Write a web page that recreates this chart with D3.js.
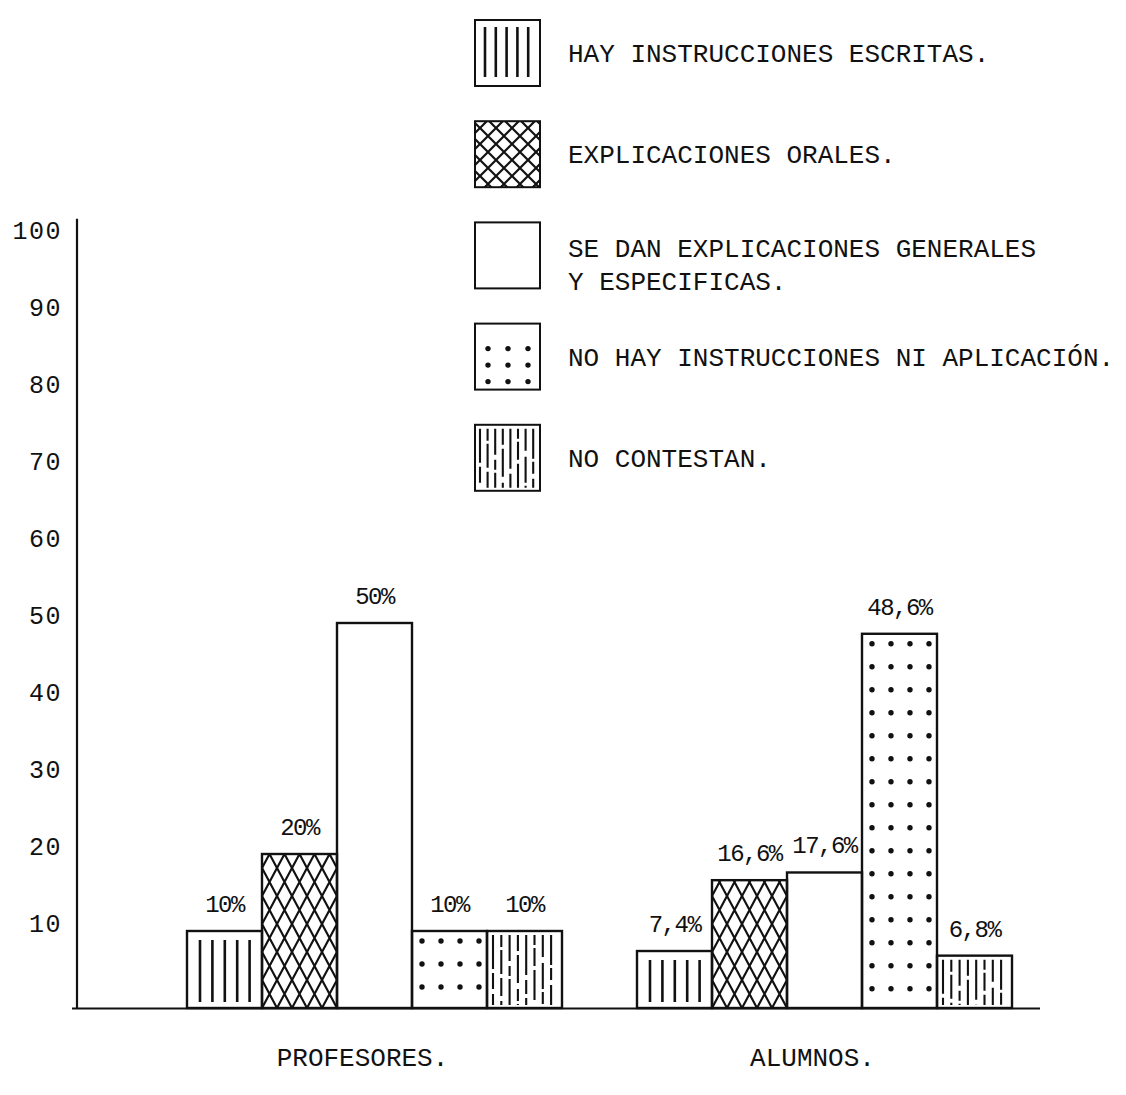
<!DOCTYPE html>
<html>
<head>
<meta charset="utf-8">
<script src="https://cdn.jsdelivr.net/npm/d3@7"></script>
<style>
  html, body { margin: 0; padding: 0; background: #fff; }
  svg { display: block; }
  text { font-family: "Liberation Mono", "DejaVu Sans Mono", monospace; fill: #111; }
</style>
</head>
<body>
<svg id="chart" width="1126" height="1095"></svg>
<script>
// ---------------- DATA ----------------
const categories = ["PROFESORES.", "ALUMNOS."];
const seriesNames = [
  "HAY INSTRUCCIONES ESCRITAS.",
  "EXPLICACIONES ORALES.",
  "SE DAN EXPLICACIONES GENERALES\nY ESPECIFICAS.",
  "NO HAY INSTRUCCIONES NI APLICACIÓN.",
  "NO CONTESTAN."
];
const profesoresValues = [10, 20, 50, 10, 10];
const alumnosValues = [7.4, 16.6, 17.6, 48.6, 6.8];
const profesoresLabels = ["10%", "20%", "50%", "10%", "10%"];
const alumnosLabels = ["7,4%", "16,6%", "17,6%", "48,6%", "6,8%"];
const yTickValues = [10, 20, 30, 40, 50, 60, 70, 80, 90, 100];

// ---------------- SETUP ----------------
const fills = ["lines", "cross", "blank", "dots", "dashes"];
const svg = d3.select("#chart");
const INK = "#111";

const y = d3.scaleLinear().domain([0, 100]).range([1008, 238]);
const x0 = d3.scaleBand().domain(categories).range([187, 1012]).paddingInner(75 / 450).paddingOuter(0);
const x1 = d3.scaleBand().domain(seriesNames).range([0, x0.bandwidth()]).padding(0);

const groups = categories.map((c, ci) => ({
  cat: c,
  values: ci === 0 ? profesoresValues : alumnosValues,
  labels: ci === 0 ? profesoresLabels : alumnosLabels
}));

// patterns
const defs = svg.append("defs");
const crossBar = defs.append("pattern").attr("id", "crossBar")
  .attr("patternUnits", "userSpaceOnUse").attr("width", 15).attr("height", 28);
crossBar.append("path").attr("d", "M-15,-28 L30,56 M0,-28 L30,28 M-15,0 L15,56 M30,-28 L-15,56 M15,-28 L-15,28 M30,0 L0,56")
  .attr("stroke", INK).attr("stroke-width", 2.2).attr("fill", "none");
const crossLeg = defs.append("pattern").attr("id", "crossLeg")
  .attr("patternUnits", "userSpaceOnUse").attr("width", 16).attr("height", 16);
crossLeg.append("path").attr("d", "M-16,-16 L32,32 M0,-16 L32,16 M-16,0 L16,32 M32,-16 L-16,32 M16,-16 L-16,16 M32,0 L0,32")
  .attr("stroke", INK).attr("stroke-width", 2.2).attr("fill", "none");

const dashSets = ["34,4,16,5,40,3", "12,3,24,4,18,5", "26,5,10,3,30,4", "16,4,28,6,12,3", "40,5,14,4,20,3", "10,3,18,4,30,5", "22,6,26,3,12,4", "30,3,12,5,24,4"];

function drawFill(g, kind, bx, by, bw, bh, legend) {
  const clipId = "c" + Math.round(bx) + "_" + Math.round(by) + (legend ? "L" : "B");
  defs.append("clipPath").attr("id", clipId).append("rect")
    .attr("x", bx).attr("y", by).attr("width", bw).attr("height", bh);
  const f = g.append("g").attr("clip-path", `url(#${clipId})`);
  if (kind === "lines") {
    const step = legend ? 10.8 : 12.4;
    const start = legend ? 10 : 13;
    const xs = d3.range(bx + start, bx + bw - 6, step);
    f.selectAll("line").data(xs).join("line")
      .attr("x1", d => d).attr("x2", d => d)
      .attr("y1", by + (legend ? 7 : 9)).attr("y2", by + bh - (legend ? 9 : 6))
      .attr("stroke", INK).attr("stroke-width", 2.6);
  } else if (kind === "cross") {
    f.append("rect").attr("x", bx).attr("y", by).attr("width", bw).attr("height", bh)
      .attr("fill", legend ? "url(#crossLeg)" : "url(#crossBar)");
  } else if (kind === "dots") {
    const pts = [];
    if (legend) {
      for (let r = 0; r < 3; r++) for (let c = 0; c < 3; c++) pts.push([bx + 13 + c * 20, by + 25 + r * 16.5]);
    } else {
      d3.range(by + 10, by + bh - 3, 23).forEach(py =>
        d3.range(bx + 10, bx + bw - 6, 19).forEach(px => pts.push([px, py])));
    }
    f.selectAll("circle").data(pts).join("circle")
      .attr("cx", d => d[0]).attr("cy", d => d[1]).attr("r", 2.7).attr("fill", INK);
  } else if (kind === "dashes") {
    const xs = d3.range(bx + (legend ? 5 : 6), bx + bw - 3, legend ? 7.6 : 8.3);
    f.selectAll("line").data(xs).join("line")
      .attr("x1", d => d).attr("x2", d => d)
      .attr("y1", by + 4).attr("y2", by + bh - 3)
      .attr("stroke", INK).attr("stroke-width", 2.1)
      .attr("stroke-dasharray", (d, i) => dashSets[i % dashSets.length]);
  }
}

// ---------------- BARS ----------------
groups.forEach(gr => {
  const g = svg.append("g").attr("transform", `translate(${x0(gr.cat)},0)`);
  seriesNames.forEach((s, i) => {
    const v = gr.values[i];
    const bx = x1(s), bw = x1.bandwidth(), by = y(v), bh = y(0) - y(v);
    g.append("rect").attr("x", bx).attr("y", by).attr("width", bw).attr("height", bh)
      .attr("fill", "#fff");
    drawFill(g, fills[i], bx, by, bw, bh, false);
  });
  seriesNames.forEach((s, i) => {
    const v = gr.values[i];
    g.append("rect").attr("x", x1(s)).attr("y", y(v)).attr("width", x1.bandwidth()).attr("height", y(0) - y(v))
      .attr("fill", "none").attr("stroke", INK).attr("stroke-width", 2.4);
  });
  g.selectAll("text.val").data(gr.labels).join("text").attr("class", "val")
    .attr("x", (d, i) => x1(seriesNames[i]) + x1.bandwidth() / 2)
    .attr("y", (d, i) => y(gr.values[i]) - 19)
    .attr("text-anchor", "middle").attr("font-size", 24).attr("letter-spacing", -1.5)
    .text(d => d);
});

// ---------------- AXES ----------------
svg.append("line").attr("x1", 72).attr("x2", 1040).attr("y1", y(0) + 0.5).attr("y2", y(0) + 0.5)
  .attr("stroke", INK).attr("stroke-width", 2);
svg.append("line").attr("x1", 77).attr("x2", 77).attr("y1", y(0)).attr("y2", y(102.5))
  .attr("stroke", INK).attr("stroke-width", 2.2);

const yAxis = svg.append("g").attr("transform", "translate(77,0)")
  .call(d3.axisLeft(y).tickValues(yTickValues).tickSize(0).tickPadding(15).tickFormat(d3.format("d")));
yAxis.select(".domain").remove();
yAxis.selectAll("text").attr("y", -8).attr("font-size", 25)
  .attr("font-family", "Liberation Mono, monospace").attr("fill", INK).attr("letter-spacing", 1.5);

svg.selectAll("text.cat").data(categories).join("text").attr("class", "cat")
  .attr("x", d => x0(d) + x0.bandwidth() / 2 - 12)
  .attr("y", 1066).attr("text-anchor", "middle").attr("font-size", 26)
  .text(d => d);

// ---------------- LEGEND ----------------
const leg = svg.append("g");
seriesNames.forEach((s, i) => {
  const bx = 475, by = 20 + i * 101.2, bw = 65, bh = 66;
  leg.append("rect").attr("x", bx).attr("y", by).attr("width", bw).attr("height", bh).attr("fill", "#fff");
  drawFill(leg, fills[i], bx, by, bw, bh, true);
  leg.append("rect").attr("x", bx).attr("y", by).attr("width", bw).attr("height", bh)
    .attr("fill", "none").attr("stroke", INK).attr("stroke-width", 2);
  const lines = s.split("\n");
  const t = leg.append("text").attr("x", 568).attr("font-size", 26)
    .attr("y", by + bh / 2 + (lines.length > 1 ? -8 : 0)).attr("dy", "0.35em");
  lines.forEach((ln, k) => t.append("tspan").attr("x", 568).attr("dy", k === 0 ? "0.35em" : 33).text(ln));
});
</script>
</body>
</html>
